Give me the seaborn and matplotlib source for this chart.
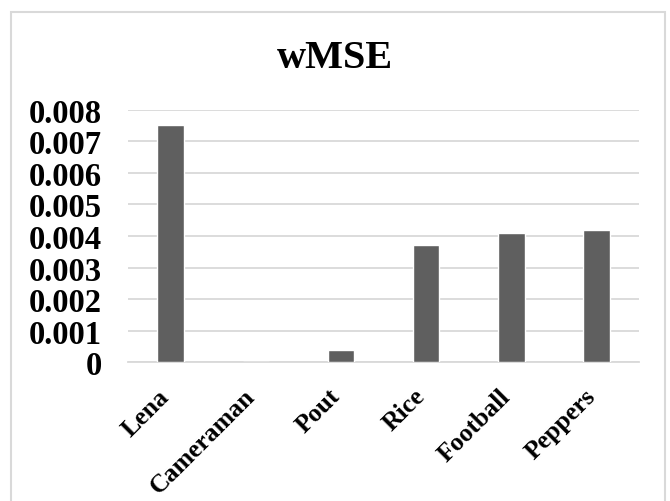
import matplotlib
matplotlib.use("Agg")
import matplotlib.pyplot as plt
import matplotlib.patches as mpatches
import seaborn as sns
import pandas as pd

categories = ["Lena", "Cameraman", "Pout", "Rice", "Football", "Peppers"]
wmse = [0.0075, 0.0, 0.0004, 0.0037, 0.0041, 0.0042]
yticks = [0, 0.001, 0.002, 0.003, 0.004, 0.005, 0.006, 0.007, 0.008]
ytick_labels = ["0", "0.001", "0.002", "0.003", "0.004", "0.005", "0.006", "0.007", "0.008"]

sns.set_theme(style="white")
plt.rcParams["font.family"] = ["Liberation Serif", "DejaVu Serif"]
plt.rcParams["font.weight"] = "bold"
plt.rcParams["text.color"] = "black"
plt.rcParams["xtick.color"] = "black"
plt.rcParams["ytick.color"] = "black"

df = pd.DataFrame({"image": categories, "wMSE": wmse})

fig = plt.figure(figsize=(6.7, 5.02), dpi=100)
ax = fig.add_axes([0.191, 0.2763, 0.763, 0.5032])

sns.barplot(data=df, x="image", y="wMSE", color="#5f5f5f", saturation=1,
            width=0.31, ax=ax, zorder=3)

ax.set_ylim(0, 0.008)
ax.set_yticks(yticks)
ax.set_yticklabels(ytick_labels, fontsize=23.5, fontweight="bold", color="black")
ax.yaxis.grid(True, color="#d9d9d9", linewidth=1.3, zorder=0)
ax.set_axisbelow(True)
ax.tick_params(axis="y", length=0, pad=19, labelcolor="black")
ax.tick_params(axis="x", length=0, pad=25, labelcolor="black")
for lbl in ax.get_xticklabels():
    lbl.set_rotation(45)
    lbl.set_ha("right")
    lbl.set_va("baseline")
    lbl.set_rotation_mode("anchor")
    lbl.set_fontsize(18.5)
    lbl.set_fontweight("bold")
for s in ["top", "right", "left"]:
    ax.spines[s].set_visible(False)
ax.spines["bottom"].set_color("#d9d9d9")
ax.spines["bottom"].set_linewidth(1.3)
ax.set_xlabel("")
ax.set_ylabel("")

fig.text(0.5, 1 - 59 / 502, "wMSE", ha="center", va="center",
         fontsize=29, fontweight="bold", color="black")

# light grey frame around the chart area
frame = mpatches.Rectangle((11 / 670, -0.02), (665 - 11) / 670, 1 - 13 / 502 + 0.02,
                           transform=fig.transFigure, fill=False,
                           edgecolor="#d9d9d9", linewidth=1.5)
fig.patches.append(frame)

fig.savefig("out.png", dpi=100, facecolor="white")
